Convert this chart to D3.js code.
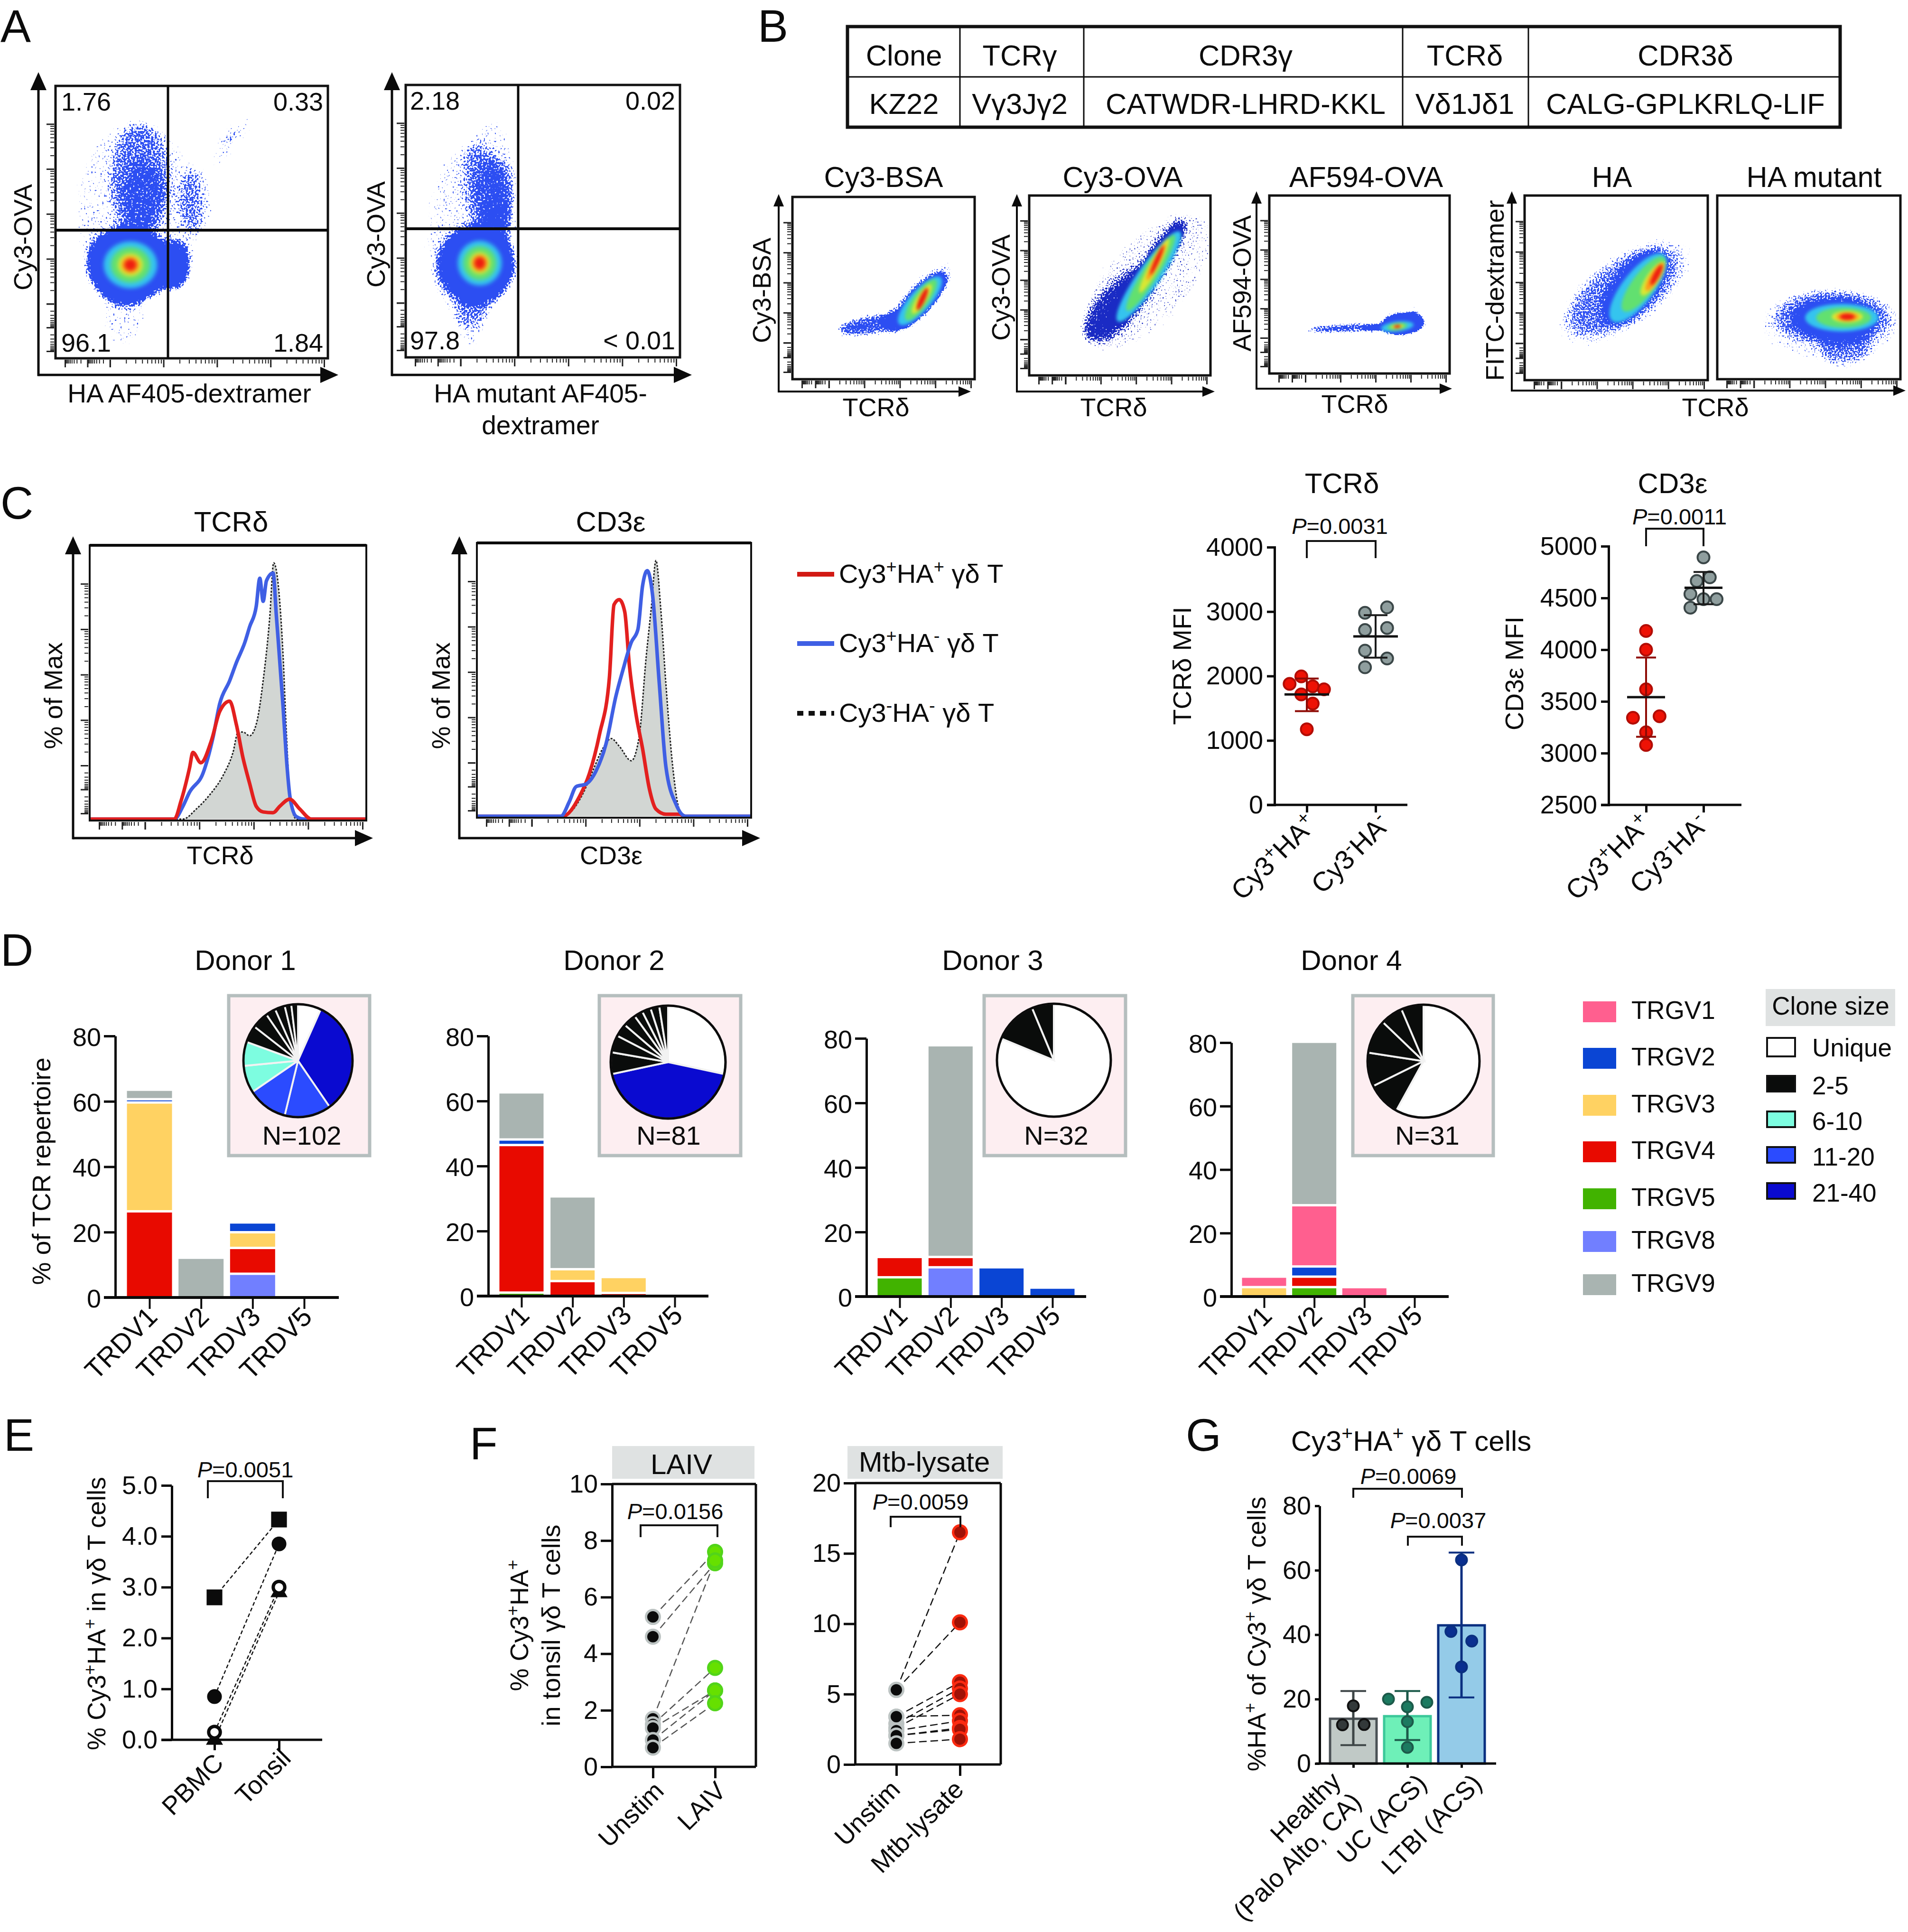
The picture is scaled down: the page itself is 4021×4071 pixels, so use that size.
<!DOCTYPE html>
<html><head><meta charset="utf-8">
<script src="https://cdn.jsdelivr.net/npm/d3@7/dist/d3.min.js"></script>
<style>html,body{margin:0;padding:0;background:#fff}svg{display:block}text{font-family:"Liberation Sans",Arial,sans-serif;fill:#0b0b0b}</style>
</head><body>
<script>
// ---------- DATA ----------
// Panel A quadrant frequencies
const quadA1 = ["1.76", "0.33", "96.1", "1.84"];
const quadA2 = ["2.18", "0.02", "97.8", "< 0.01"];
// Flow-cytometry density outlines, in % of each plot's range: [level, cx, cy, ux, uy, vx, vy]
const cloudLevels = { sparse: 0.34, mid: 0.36, dense: 0.3, solid: 1 };
const coreColours = ["#35c4ee", "#62e070", "#d9e733", "#ff9a1a", "#ee1d10"];
const cloudA1 = [["sparse",30,55,24,0,0,33],["sparse",25,14,9,0,0,11],["mid",31,65,11,0,0,22],["dense",32,60,7,0,0,12],["sparse",52,58,7,0,0,13],["sparse",61,76,5,4,0,8],["sparse",68,84,6,3,0,5],["solid",26.5,34,15,0,0,14],["solid",43,34,6.5,0,0,9]];
const coreA1 = [[0,27.5,34.3,9.8,0,0,8.6],[1,27.5,34.3,7.2,0,0,6.5],[2,27.5,34.3,4.6,0,0,4.2],[3,27.5,34.3,3.2,0,0,3],[4,27.5,34.3,2.2,0,0,2.1]];
const cloudA2 = [["sparse",23,45,17,0,0,34],["sparse",24,14,6,0,0,14],["mid",31,66,10,0,0,22],["dense",33,60,7,0,0,14],["solid",26,34,14,0,0,14],["dense",34,50,6,0,0,7]];
const coreA2 = [[0,27,34.6,8,0,0,8.2],[1,27,34.6,6,0,0,6.2],[2,27,34.6,3.8,0,0,4],[3,27,34.6,2.8,0,0,3],[4,27,34.6,2,0,0,2.2]];
const cloudBSA = [["sparse",46,30,23,3,0,7],["sparse",70,46,18,19,8,-4],["mid",42,30,16,3,0,4],["dense",45,30,20,3,0,5],["solid",60,33,9,4,-2,5],["solid",70.5,43,13,15,6,-3.5]];
const coreBSA = [[0,70,43,11,13,5,-3],[1,70.5,43.5,8,11,3.6,-2.2],[2,71,44,5,8,2.3,-1.3],[4,71.3,44,2.8,6,1.4,-.7]];
const cloudOVA = [["sparse",65,52,30,38,22,-12],["sparse",46,36,12,18,12,0],["mid",48,40,13,20,11,-2],["sparse",55,42,14,22,8,-3],["solid",67,58,18,28,5,-2.5]];
const coreOVA = [[0,66,55,17,25,5.5,-3],[1,67,57,13,21,3.8,-2],[2,69,61,8,15,2.4,-1.2],[3,70,63,5,10,1.6,-.8],[4,70.5,64,3.5,8,1.1,-.5]];
const cloudAF = [["sparse",46,25.6,27,1,0,3],["mid",42,25.6,20,1,0,2],["dense",42,25.6,22,1,0,2.4],["solid",62,26,10,1,0,1.8],["solid",74,28,12,2.5,-3,6],["mid",80,34,1.8,6,2.5,0],["sparse",64,77.7,.8,0,0,.5]];
const coreAF = [[0,71,26.4,9,1,0,2.8],[1,71,26.4,5.5,.6,0,2],[2,71,26.4,3.5,.3,0,1.3],[4,71,26.4,2,.2,0,.8]];
const cloudHA = [["sparse",55,48,34,28,17,-13],["mid",54,48,27,22,14,-10],["solid",60,50,14,18,7.5,-6]];
const coreHA = [[0,62,50,14,18,7,-5],[1,65,52,11,14.5,5,-3.5],[2,70,55,6,9,3,-1.8],[3,71,56,4.5,7.5,2.2,-1.2],[4,72,57,3,5.5,1.4,-.8]];
const cloudMut = [["sparse",62,30,40,0,0,21],["sparse",70,18,14,0,0,14],["mid",63,33,32,0,0,15],["solid",64,33,22,0,0,9.5]];
const coreMut = [[0,68,33.5,20,0,0,7.5],[1,69,33.5,15,0,0,5.5],[2,71,34,8.5,0,0,3.2],[3,71,34,6,0,0,2.4],[4,71,34,4,0,0,1.7]];
// Panel B table
const tableHeader = ["Clone", "TCRγ", "CDR3γ", "TCRδ", "CDR3δ"];
const tableRow = ["KZ22", "Vγ3Jγ2", "CATWDR-LHRD-KKL", "Vδ1Jδ1", "CALG-GPLKRLQ-LIF"];
// Panel C histograms: [% of axis range, % of max]
const histTcrGrey = [[0,0],[33.7,0],[38.6,4],[43.4,9.5],[48.2,17],[51.8,26],[53.7,34],[55.4,34],[57.8,32.5],[60.2,37],[62.7,54],[65.1,79],[66.5,100],[68.2,91],[69.9,64],[71.1,34],[72.5,8],[74.7,0],[100,0]];
const histTcrBlue = [[0,0],[30.6,0],[33.7,5],[36.1,10.5],[41,18],[44.6,32],[47,45],[50.6,54],[53,61],[56.1,69],[57.8,75],[60.2,83],[61.5,94],[62.7,85],[63.9,93],[66.3,96],[67.5,79],[69.9,44],[71.1,24],[72.5,8],[74.7,1],[77.8,0],[100,0]];
const histTcrRed = [[0,0],[30.6,0],[33,7],[36.1,20],[37.3,26],[40.2,22],[44.1,31],[47,42],[50.6,46],[53,37],[55.4,24],[57.8,14],[60.2,5],[62.7,2.8],[66.3,2.5],[68.7,5],[72.3,7.8],[75.9,4],[80.2,0],[100,0]];
const histCdGrey = [[0,0],[31.3,0],[38.6,8.7],[42.2,17.6],[45.9,26.5],[49,30.4],[51.9,27.4],[56.3,21.7],[59.2,31.4],[61.7,62],[63.6,81.7],[65.3,100],[67,81.7],[68.9,52],[71.4,19.5],[73.8,2.8],[76.2,0],[100,0]];
const histCdBlue = [[0,0],[30.6,0],[33.7,5.7],[36.2,11.6],[39.8,12.6],[43.4,17.6],[47.1,28.4],[50.7,47],[53.2,57],[56.3,68],[58.7,73],[60.4,90],[62.1,96],[64,87],[66.5,52],[68.9,19.5],[72.6,4.7],[76.2,0],[100,0]];
const histCdRed = [[0,0],[31.3,0],[37.4,7.7],[41,16.6],[44.7,32],[48.3,54],[50,82.7],[51.9,84.7],[53.9,80],[55.6,59],[58,40],[60.4,26.5],[62.9,10.7],[65.3,2.8],[68.9,.8],[73.8,.8],[76.2,0],[100,0]];
const histLegend = ["Cy3^+HA^+ γδ T", "Cy3^+HA^- γδ T", "Cy3^-HA^- γδ T"];
// Panel C MFI
const mfiCats = ["Cy3^+HA^+", "Cy3^-HA^-"];
const tcrRed = [1878,1995,1840,1793,1714,1573,1174];
const tcrRedJit = [-.25,-.08,.086,.25,-.08,.086,0];
const tcrGrey = [2981,3066,2714,2746,2394,2272,2136];
const tcrGreyJit = [-.154,.167,-.154,.167,-.154,.167,-.154];
const tcrSummary = [[1714,1962,1455],[2615,2944,2286]];
const cdRed = [4181,4000,3617,3342,3357,3202,3079];
const cdRedJit = [0,0,0,-.228,.235,0,0];
const cdGrey = [4892,4699,4664,4538,4488,4488,4406];
const cdGreyJit = [0,.11,-.118,-.228,0,.228,-.228];
const cdSummary = [[3541,3924,3158],[4599,4751,4439]];
// Panel D repertoire
const trdv = ["TRDV1", "TRDV2", "TRDV3", "TRDV5"];
const trgv = ["TRGV1", "TRGV2", "TRGV3", "TRGV4", "TRGV5", "TRGV8", "TRGV9"];
const stackOrder = ["TRGV5", "TRGV8", "TRGV4", "TRGV3", "TRGV2", "TRGV1", "TRGV9"];
const donor1 = [[0,0,26,33.3,1,0,2.9],[0,0,0,0,0,0,11.8],[0,6.9,7.9,4.8,3,0,0],[0,0,0,0,0,0,0]];
const donor2 = [[.7,0,45.4,0,1.7,0,14.5],[0,0,4.25,3.65,0,0,22.4],[0,0,.6,4.9,0,0,0],[0,0,0,0,0,0,0]];
const donor3 = [[5.6,0,6.3,0,0,0,0],[0,8.7,3.2,0,0,0,65.6],[0,0,0,0,8.7,0,0],[0,0,0,0,2.4,0,0]];
const donor4 = [[0,0,0,2.6,0,3.3,0],[2.6,0,3.3,0,3.2,19.3,51.5],[0,0,0,0,0,2.6,0],[0,0,0,0,0,0,0]];
const cloneSizes = ["Unique", "2-5", "6-10", "11-20", "21-40"];
const pie1 = [7,34,14,12,8,7,5,5,3,3,2,2];
const pie1Class = ["Unique","21-40","11-20","11-20","6-10","6-10","2-5","2-5","2-5","2-5","2-5","2-5"];
const pie2 = [23,35,5,4,3,3,2,2,2,2];
const pie2Class = ["Unique","21-40","2-5","2-5","2-5","2-5","2-5","2-5","2-5","2-5"];
const pie3 = [26,4,2];
const pie3Class = ["Unique","2-5","2-5"];
const pie4 = [18,3,3,3,2,2];
const pie4Class = ["Unique","2-5","2-5","2-5","2-5","2-5"];
// Panel E
const eCats = ["PBMC", "Tonsil"];
const ePbmc = [2.8, .85, 0, .15];
const eTonsil = [4.33, 3.85, 2.9, 3.0];
const eShapes = ["square", "circle", "triangle", "ring"];
// Panel F
const laivCats = ["Unstim", "LAIV"];
const laivUnstim = [5.3,4.6,1.7,1.5,1.37,.95,.68];
const laivStim = [7.6,7.2,7.3,3.5,2.7,2.7,2.25];
const mtbCats = ["Unstim", "Mtb-lysate"];
const mtbUnstim = [5.3,5.3,3.4,2.9,2.6,3.4,2.4,2.05,2.05,1.5];
const mtbStim = [16.5,10.1,5.85,5.4,5,3.5,3.1,2.6,2.5,1.8];
// Panel G
const gCats = ["Healthy", "UC (ACS)", "LTBI (ACS)"];
const gBars = [13.9, 14.7, 42.9];
const gErrHi = [22.5, 22.5, 65.5];
const gErrLo = [5.7, 7.3, 20.5];
const gPts1 = [17.9,12,12.1];
const gJit1 = [0,-.2,.2];
const gPts2 = [20,19,17.6,13,5];
const gJit2 = [-.35,.36,0,0,0];
const gPts3 = [63.2,41,38,30];
const gJit3 = [0,-.195,.19,0];

// ---------- STYLES ----------
const geneColour = d3.scaleOrdinal(trgv, ["#ff5f8f","#0a45d4","#ffd262","#e80a00","#41b300","#717fff","#a9b4b1"]);
const sizeColour = d3.scaleOrdinal(cloneSizes, ["#ffffff","#0a0c0b","#7dfde0","#2b4bff","#0a0ad0"]);

const W = 4021, H = 4071, FS = 54, PS = 47;
const svg = d3.select("body").append("svg").attr("width", W).attr("height", H).attr("viewBox", `0 0 ${W} ${H}`);
const defs = svg.append("defs");

// rich text: ^+ superscript, *x* italic
function label(sel, str, size) {
  const re = /(\^[+-]|\*[^*]+\*)/;
  str.split(re).filter(s => s.length).forEach(s => {
    if (s[0] === "^") sel.append("tspan").attr("baseline-shift", "super").attr("font-size", size * .68).text(s[1]);
    else if (s[0] === "*") sel.append("tspan").attr("font-style", "italic").text(s.slice(1, -1));
    else sel.append("tspan").text(s);
  });
}
function T(x, y, str, o = {}) {
  const size = o.size || FS;
  const t = svg.append("text").attr("transform", `translate(${x},${y})` + (o.rot ? ` rotate(${o.rot})` : ""))
    .attr("font-size", size).attr("text-anchor", o.a || "middle");
  label(t, str, size);
  return t;
}
const V = (cx, cy, str, size = FS) => T(cx + size * .36, cy, str, { size, rot: -90 });
const L = (a, b, c, d, sw = 5, col = "#0b0b0b", dash = null, par = svg) => par.append("line").attr("x1", a).attr("y1", b).attr("x2", c).attr("y2", d).attr("stroke", col).attr("stroke-width", sw).attr("stroke-dasharray", dash);

function arrows(ax, top, bottom, right, hw, hl, sw = 5) {
  L(ax, top + hl - 4, ax, bottom + sw / 2, sw);
  L(ax, bottom, right - hl + 4, bottom, sw);
  svg.append("polygon").attr("points", [[ax, top], [ax - hw, top + hl], [ax + hw, top + hl]].join(" ")).attr("fill", "#0b0b0b");
  svg.append("polygon").attr("points", [[right, bottom], [right - hl, bottom - hw], [right - hl, bottom + hw]].join(" ")).attr("fill", "#0b0b0b");
}
function logTicks(box, sides) {
  const [x0, x1, y0, y1] = box;
  const setTicks = (g, major) => {
    g.select(".domain").remove(); g.selectAll("text").remove();
    g.selectAll(".tick line").attr("stroke", "#222").attr("stroke-width", 2).each(function (d) {
      const big = Math.abs(Math.log10(d) - Math.round(Math.log10(d))) < 1e-6;
      const s = d3.select(this);
      if (s.attr("y2") !== null && +s.attr("y2") !== 0) s.attr("y2", big ? major : major * .5).attr("stroke-width", big ? 3 : 2);
      else s.attr("x2", big ? -major : -major * .5).attr("stroke-width", big ? 3 : 2);
    });
  };
  const xs = d3.scaleLog([1, 1e4], [x0 + (x1 - x0) * .2, x1 - 8]);
  const xn = d3.scaleLog([1, 100], [x0 + (x1 - x0) * .2, x0 + 20]);
  const ys = d3.scaleLog([1, 1e4], [y1 - (y1 - y0) * .2, y0 + (y1 - y0) * .14]);
  const yn = d3.scaleLog([1, 100], [y1 - (y1 - y0) * .2, y1 - 15]);
  if (sides.includes("x")) for (const s of [xs, xn])
    svg.append("g").attr("transform", `translate(0,${y1 + 3})`).call(d3.axisBottom(s).tickValues(s.ticks()).tickFormat("")).call(setTicks, 16);
  if (sides.includes("y")) for (const s of [ys, yn])
    svg.append("g").attr("transform", `translate(${x0 - 3},0)`).call(d3.axisLeft(s).tickValues(s.ticks()).tickFormat("")).call(setTicks, 16);
}

let fid = 0;
function flow(box, cloud, core, o = {}) {
  const [x0, x1, y0, y1] = box;
  const xs = d3.scaleLinear([0, 100], [x0, x1]), ys = d3.scaleLinear([0, 100], [y1, y0]);
  const id = ++fid;
  const blur = o.blur || 11, core_b = o.coreBlur || 4, flood = o.flood || "#2c4ef2";
  const fx = x0 - 5, fy = y0 - 5, fw = x1 - x0 + 10, fh = y1 - y0 + 10;
  const f = defs.append("filter").attr("id", "sp" + id).attr("filterUnits", "userSpaceOnUse")
    .attr("x", fx).attr("y", fy).attr("width", fw).attr("height", fh).attr("color-interpolation-filters", "sRGB");
  f.append("feGaussianBlur").attr("in", "SourceGraphic").attr("stdDeviation", blur).attr("result", "b");
  f.append("feTurbulence").attr("type", "fractalNoise").attr("baseFrequency", o.grain || .3).attr("numOctaves", 1).attr("seed", 3 + id).attr("result", "n0");
  f.append("feColorMatrix").attr("in", "n0").attr("values", "0 0 0 0 0  0 0 0 0 0  0 0 0 0 0  0 0 0 1 0").attr("result", "n");
  f.append("feComposite").attr("in", "b").attr("in2", "n").attr("operator", "arithmetic").attr("k1", 0).attr("k2", 1).attr("k3", 1).attr("k4", -1).attr("result", "s");
  const ct = f.append("feComponentTransfer").attr("in", "s").attr("result", "t");
  ct.append("feFuncA").attr("type", "linear").attr("slope", 14).attr("intercept", 0);
  f.append("feFlood").attr("flood-color", flood).attr("result", "c");
  f.append("feComposite").attr("in", "c").attr("in2", "t").attr("operator", "in");
  const fb = defs.append("filter").attr("id", "cb" + id).attr("filterUnits", "userSpaceOnUse").attr("x", fx).attr("y", fy).attr("width", fw).attr("height", fh).attr("color-interpolation-filters", "sRGB");
  fb.append("feGaussianBlur").attr("stdDeviation", core_b);
  const clip = defs.append("clipPath").attr("id", "cl" + id);
  clip.append("rect").attr("x", x0).attr("y", y0).attr("width", (o.clipX ? xs(o.clipX) : x1) - x0).attr("height", y1 - y0);
  const ell = r => {
    const [cx, cy, ux, uy, vx, vy] = r;
    const pts = d3.range(0, 60).map(i => {
      const t = i / 60 * 2 * Math.PI;
      return [xs(cx + ux * Math.cos(t) + vx * Math.sin(t)), ys(cy + uy * Math.cos(t) + vy * Math.sin(t))];
    });
    return d3.line().curve(d3.curveLinearClosed)(pts);
  };
  const outer = svg.append("g").attr("clip-path", `url(#cl${id})`);
  outer.append("g").attr("filter", `url(#sp${id})`).selectAll("path").data(cloud).join("path")
    .attr("d", d => ell(d.slice(1))).attr("fill", "#000").attr("fill-opacity", d => cloudLevels[d[0]]);
  outer.append("g").attr("filter", `url(#cb${id})`).selectAll("path").data(core).join("path")
    .attr("d", d => ell(d.slice(1))).attr("fill", d => coreColours[d[0]]);
}
function frame(box, sw = 5) {
  const [x0, x1, y0, y1] = box;
  svg.append("rect").attr("x", x0).attr("y", y0).attr("width", x1 - x0).attr("height", y1 - y0).attr("fill", "none").attr("stroke", "#111").attr("stroke-width", sw);
}

// ---------- PANEL LETTERS ----------
[["A", 1, 88], ["B", 1597, 88], ["C", 1, 1093], ["D", 1, 2035], ["E", 8, 3057], ["F", 990, 3075], ["G", 2499, 3057]]
  .forEach(d => T(d[1], d[2], d[0], { a: "start", size: 96 }));

// ---------- PANEL A ----------
function panelA(box, gateX, gateY, quad, cloud, core, ax, clipX, ql, qr, qt, qb) {
  logTicks(box, "xy");
  flow(box, cloud, core, { clipX, blur: 11, grain: .26 });
  frame(box, 5);
  L(gateX, box[2], gateX, box[3], 5); L(box[0], gateY, box[1], gateY, 6);
  arrows(ax, 152, 790, ax + 632, 17, 38);
  T(ql, qt, quad[0], { a: "start" }); T(qr, qt, quad[1], { a: "end" });
  T(ql, qb, quad[2], { a: "start" }); T(qr, qb, quad[3], { a: "end" });
}
panelA([117, 691, 181, 755], 354, 485, quadA1, cloudA1, coreA1, 81, null, 129, 681, 233, 741);
panelA([855, 1433, 179, 753], 1092, 482, quadA2, cloudA2, coreA2, 826, 41, 864, 1423, 231, 736);
V(48, 500, "Cy3-OVA"); V(792, 494, "Cy3-OVA");
T(399, 848, "HA AF405-dextramer", { size: 55 }); T(1139, 848, "HA mutant AF405-", { size: 55 }); T(1139, 915, "dextramer", { size: 55 });

// ---------- PANEL B ----------
const tableX = [1786, 2023, 2284, 2956, 3221, 3878];
const tableY = [56, 162, 268];
svg.append("rect").attr("x", tableX[0]).attr("y", tableY[0]).attr("width", tableX[5] - tableX[0]).attr("height", tableY[2] - tableY[0]).attr("fill", "none").attr("stroke", "#111").attr("stroke-width", 7);
L(tableX[0], tableY[1], tableX[5], tableY[1], 3);
tableX.slice(1, 5).forEach(x => L(x, tableY[0], x, tableY[2], 3));
const tableCx = [1905, 2149, 2625, 3087, 3552];
tableHeader.forEach((s, i) => T(tableCx[i], 138, s, { size: 61.5 }));
tableRow.forEach((s, i) => T(tableCx[i], 240, s, { size: 61.5 }));

const bPlots = [
  { box: [1670, 2054, 415, 799], c: cloudBSA, k: coreBSA, t: "Cy3-BSA", tx: 1862, yl: "Cy3-BSA", ylx: 1605, yly: 612, blur: 7 },
  { box: [2169, 2551, 412, 791], c: cloudOVA, k: coreOVA, t: "Cy3-OVA", tx: 2366, yl: "Cy3-OVA", ylx: 2109, yly: 606, flood: "#1a2bc4", blur: 9 },
  { box: [2675, 3055, 412, 787], c: cloudAF, k: coreAF, t: "AF594-OVA", tx: 2879, yl: "AF594-OVA", ylx: 2617, yly: 597, blur: 5 },
  { box: [3213, 3599, 412, 801], c: cloudHA, k: coreHA, t: "HA", tx: 3397, yl: "FITC-dextramer", ylx: 3150, yly: 612, blur: 11 },
  { box: [3619, 4005, 412, 799], c: cloudMut, k: coreMut, t: "HA mutant", tx: 3823, blur: 9 }
];
bPlots.forEach(p => {
  logTicks(p.box, p.yl ? "xy" : "x");
  flow(p.box, p.c, p.k, { flood: p.flood, blur: p.blur, coreBlur: 3, grain: .3 });
  frame(p.box, 5);
  T(p.tx, 394, p.t, { size: 61 });
  if (p.yl) V(p.ylx, p.yly, p.yl);
});
arrows(1641, 409, 825, 2046, 11, 26, 4);
arrows(2143, 409, 825, 2560, 11, 26, 4);
arrows(2648, 403, 819, 3060, 11, 26, 4);
arrows(3186, 403, 823, 4016, 11, 26, 4);
T(1846, 877, "TCRδ"); T(2347, 877, "TCRδ"); T(2855, 870, "TCRδ"); T(3615, 877, "TCRδ");

// ---------- PANEL C HISTOGRAMS ----------
function hist(box, grey, blue, red, ax, right, redOnTop) {
  const [x0, x1, y0, y1] = box;
  const base = y1 - 3;
  const xs = d3.scaleLinear([0, 100], [x0, x1]);
  const ys = d3.scaleLinear([0, 100], [base, y0 + 37]);
  logTicks([x0, x1, y0, y1], "xy");
  svg.append("path").datum(grey).attr("fill", "#d2d6d3")
    .attr("d", d3.area().curve(d3.curveMonotoneX).x(d => xs(d[0])).y0(base).y1(d => ys(d[1])));
  const line = d3.line().curve(d3.curveMonotoneX).x(d => xs(d[0])).y(d => ys(d[1]));
  svg.append("path").datum(grey).attr("fill", "none").attr("stroke", "#222").attr("stroke-width", 3).attr("stroke-dasharray", "4 3").attr("d", line);
  const drawOrder = redOnTop ? [[blue, "#3f5fe4"], [red, "#e3201f"]] : [[red, "#e3201f"], [blue, "#3f5fe4"]];
  drawOrder.forEach(([d, c]) => svg.append("path").datum(d).attr("fill", "none").attr("stroke", c).attr("stroke-width", 7.5).attr("stroke-linejoin", "round").attr("d", line));
  svg.append("rect").attr("x", x0).attr("y", y0).attr("width", x1 - x0).attr("height", y1 - y0).attr("fill", "none").attr("stroke", "#111").attr("stroke-width", 4);
  L(x0, y0, x1, y0, 6);
  arrows(ax, 1130, 1766, right, 17, 38);
}
hist([189, 772, 1149, 1729], histTcrGrey, histTcrBlue, histTcrRed, 154, 786, true);
hist([1005, 1583, 1144, 1723], histCdGrey, histCdBlue, histCdRed, 968, 1602, false);
T(487, 1120, "TCRδ", { size: 60 }); T(1287, 1120, "CD3ε", { size: 60 });
T(464, 1821, "TCRδ"); T(1288, 1821, "CD3ε");
V(112, 1466, "% of Max"); V(929, 1466, "% of Max");
const histLegY = [1210, 1356, 1503], histLegCol = ["#d21a14", "#3f5fe4", "#111"], histLegDash = [null, null, "13 11"];
histLegend.forEach((s, i) => {
  L(1680, histLegY[i], 1758, histLegY[i], 10, histLegCol[i], histLegDash[i]);
  T(1768, histLegY[i] + 18, s, { a: "start", size: 56 });
});

// ---------- PANEL C MFI ----------
function mfi(o) {
  const y = d3.scaleLinear(o.dom, o.yr);
  const x = d3.scalePoint(mfiCats, o.xr);
  const step = o.xr[1] - o.xr[0];
  const g = svg.append("g");
  g.append("g").attr("transform", `translate(${o.ax},0)`).call(d3.axisLeft(y).tickValues(o.ticks).tickFormat(d3.format("d")).tickSizeOuter(0).tickSize(16).tickPadding(8))
    .call(a => { a.selectAll("path,line").attr("stroke", "#0b0b0b").attr("stroke-width", 5); a.selectAll("text").attr("font-size", FS); });
  g.append("g").attr("transform", `translate(0,${o.yr[0]})`).call(d3.axisBottom(x).tickSizeOuter(0).tickSize(16).tickFormat(""))
    .call(a => { a.select(".domain").remove(); a.selectAll("line").attr("stroke", "#0b0b0b").attr("stroke-width", 5); });
  L(o.ax - 16, o.yr[0], o.xend, o.yr[0], 5);
  const dots = (vals, jit, cat, fill, stroke) => g.append("g").selectAll("circle").data(vals).join("circle")
    .attr("cx", (d, i) => x(cat) + jit[i] * step).attr("cy", d => y(d)).attr("r", 12.5)
    .attr("fill", fill).attr("stroke", stroke).attr("stroke-width", 4);
  dots(o.red, o.redJ, mfiCats[0], "#ee1205", "#b20d05");
  dots(o.grey, o.greyJ, mfiCats[1], "#8f9e9e", "#3b4748");
  o.sum.forEach((s, i) => {
    const cx = x(mfiCats[i]), col = i ? "#1b1b1b" : "#8e0b05";
    L(cx, y(s[1]), cx, y(s[2]), 4, col);
    L(cx - o.cap, y(s[1]), cx + o.cap, y(s[1]), 4, col);
    L(cx - o.cap, y(s[2]), cx + o.cap, y(s[2]), 4, col);
    L(cx - o.mean, y(s[0]), cx + o.mean, y(s[0]), 5, "#111");
  });
  svg.append("path").attr("fill", "none").attr("stroke", "#111").attr("stroke-width", 4)
    .attr("d", `M${o.xr[0]},${o.bb}V${o.bt}H${o.xr[1]}V${o.bb}`);
  T((o.xr[0] + o.xr[1]) / 2 + o.pdx, o.bt - o.pgap, o.p, { size: PS });
  mfiCats.forEach((c, i) => T(x(c) + 14 + o.ldx[i], o.yr[0] + 44, c, { rot: -45, a: "end", size: 57 }));
}
mfi({ dom: [0, 4000], yr: [1696, 1153], xr: [2754, 2899], ax: 2686, xend: 2966, ticks: [0, 1000, 2000, 3000, 4000],
  red: tcrRed, redJ: tcrRedJit, grey: tcrGrey, greyJ: tcrGreyJit, sum: tcrSummary, cap: 25, mean: 47, bt: 1140, bb: 1176, p: "*P*=0.0031", pdx: -3, pgap: 15, ldx: [10, 20] });
mfi({ dom: [2500, 5000], yr: [1696, 1151], xr: [3469, 3590], ax: 3390, xend: 3670, ticks: [2500, 3000, 3500, 4000, 4500, 5000],
  red: cdRed, redJ: cdRedJit, grey: cdGrey, greyJ: cdGreyJit, sum: cdSummary, cap: 21, mean: 40, bt: 1114, bb: 1151, p: "*P*=0.0011", pdx: 10, pgap: 9, ldx: [0, 0] });
T(2828, 1039, "TCRδ", { size: 60 }); T(3525, 1039, "CD3ε", { size: 60 });
V(2491, 1403, "TCRδ MFI"); V(3191, 1419, "CD3ε MFI");

// ---------- PANEL D ----------
const dPanels = [
  { rows: donor1, t: "Donor 1", tx: 517, ax: 243, y0: 2734, y80: 2183, xr: [315, 641], bw: 95, xend: 714, pie: pie1, cls: pie1Class, n: "N=102", box: [482, 779], pc: [628, 2235], nx: 636, prx: 115 },
  { rows: donor2, t: "Donor 2", tx: 1294, ax: 1029, y0: 2731, y80: 2183, xr: [1099, 1422], bw: 93, xend: 1493, pie: pie2, cls: pie2Class, n: "N=81", box: [1263, 1561], pc: [1408, 2238], nx: 1409, prx: 121 },
  { rows: donor3, t: "Donor 3", tx: 2092, ax: 1826, y0: 2732, y80: 2188, xr: [1896, 2218], bw: 93, xend: 2289, pie: pie3, cls: pie3Class, n: "N=32", box: [2074, 2372], pc: [2221, 2234], nx: 2226, prx: 120 },
  { rows: donor4, t: "Donor 4", tx: 2848, ax: 2595, y0: 2732, y80: 2197, xr: [2664, 2981], bw: 93, xend: 3053, pie: pie4, cls: pie4Class, n: "N=31", box: [2851, 3147], pc: [3000, 2236], nx: 3008, prx: 118 }
];
dPanels.forEach(p => {
  const y = d3.scaleLinear([0, 80], [p.y0, p.y80]);
  const x = d3.scalePoint(trdv, p.xr);
  const rows = p.rows.map(r => Object.fromEntries(stackOrder.map((k, i) => [k, r[i]])));
  const stacked = d3.stack().keys(stackOrder)(rows);
  const gap = 5;
  stacked.forEach(layer => {
    svg.append("g").attr("fill", geneColour(layer.key)).selectAll("rect").data(layer.filter(d => d[1] > d[0])).join("rect")
      .attr("x", d => x(trdv[layer.indexOf(d)]) - p.bw / 2).attr("width", p.bw)
      .attr("y", d => y(d[1]))
      .attr("height", d => y(d[0]) - y(d[1]) - (d[0] > 0 ? gap : 0));
  });
  svg.append("g").attr("transform", `translate(${p.ax},0)`).call(d3.axisLeft(y).tickValues([0, 20, 40, 60, 80]).tickSize(24).tickSizeOuter(0).tickPadding(6))
    .call(a => { a.selectAll("path,line").attr("stroke", "#0b0b0b").attr("stroke-width", 5); a.selectAll("text").attr("font-size", FS).attr("transform", "translate(0,3)"); });
  svg.append("g").attr("transform", `translate(0,${p.y0})`).call(d3.axisBottom(x).tickSize(24).tickFormat(""))
    .call(a => { a.select(".domain").remove(); a.selectAll("line").attr("stroke", "#0b0b0b").attr("stroke-width", 4); });
  L(p.ax - 24, p.y0, p.xend, p.y0, 6);
  trdv.forEach(c => T(x(c) + 20, p.y0 + 44, c, { rot: -45, a: "end", size: 57 }));
  T(p.tx, 2044, p.t, { size: 60 });
  // inset
  svg.append("rect").attr("x", p.box[0]).attr("y", 2098).attr("width", p.box[1] - p.box[0]).attr("height", 337).attr("fill", "#fdeef1").attr("stroke", "#b5bebe").attr("stroke-width", 7);
  const R = 119;
  const arcs = d3.pie().sort(null).value(d => d)(p.pie);
  const pg = svg.append("g").attr("transform", `translate(${p.pc[0]},${p.pc[1]}) scale(${p.prx / R},1)`);
  const arc = d3.arc().innerRadius(0).outerRadius(R);
  pg.selectAll("path").data(arcs).join("path").attr("d", arc).attr("fill", (d, i) => sizeColour(p.cls[i])).attr("stroke", "#f2f2f2").attr("stroke-width", 4);
  pg.append("circle").attr("r", R).attr("fill", "none").attr("stroke", "#0b0b0b").attr("stroke-width", 5);
  T(p.nx, 2412, p.n, { size: 56 });
});
V(87, 2468, "% of TCR repertoire");
// legends
const geneLegY = [2110, 2208, 2307, 2405, 2504, 2594, 2685];
trgv.forEach((g, i) => {
  svg.append("rect").attr("x", 3336).attr("y", geneLegY[i]).attr("width", 70).attr("height", 44).attr("fill", geneColour(g));
  T(3438, geneLegY[i] + 37, g, { a: "start", size: 53 });
});
svg.append("rect").attr("x", 3721).attr("y", 2084).attr("width", 273).attr("height", 78).attr("fill", "#dfe2e2");
T(3858, 2138, "Clone size", { size: 53 });
const sizeLegY = [2187, 2267, 2342, 2417, 2493], sizeLegH = [39, 33, 33, 33, 33], sizeLegT = [2226, 2306, 2381, 2456, 2532];
cloneSizes.forEach((s, i) => {
  svg.append("rect").attr("x", 3724).attr("y", sizeLegY[i]).attr("width", 59).attr("height", sizeLegH[i]).attr("fill", sizeColour(s)).attr("stroke", "#111").attr("stroke-width", 4);
  T(3819, sizeLegT[i], s, { a: "start", size: 53 });
});

// ---------- PANEL E ----------
{
  const y = d3.scaleLinear([0, 5], [3666, 3130]);
  const x = d3.scalePoint(eCats, [452, 588]);
  svg.append("g").attr("transform", "translate(362,0)").call(d3.axisLeft(y).tickValues([0, 1, 2, 3, 4, 5]).tickFormat(d3.format(".1f")).tickSize(22).tickSizeOuter(0).tickPadding(8))
    .call(a => { a.selectAll("path,line").attr("stroke", "#0b0b0b").attr("stroke-width", 5); a.selectAll("text").attr("font-size", FS); });
  svg.append("g").attr("transform", "translate(0,3666)").call(d3.axisBottom(x).tickSize(22).tickFormat(""))
    .call(a => { a.select(".domain").remove(); a.selectAll("line").attr("stroke", "#0b0b0b").attr("stroke-width", 5); });
  L(340, 3666, 679, 3666, 5);
  ePbmc.forEach((v, i) => L(x(eCats[0]), y(v), x(eCats[1]), y(eTonsil[i]), 2.5, "#111", "8 5"));
  const sym = { square: [d3.symbolSquare, 1100], circle: [d3.symbolCircle, 760], triangle: [d3.symbolTriangle, 560], ring: [d3.symbolCircle, 470] };
  [[eCats[0], ePbmc], [eCats[1], eTonsil]].forEach(([c, vals]) => {
    svg.append("g").selectAll("path").data(vals).join("path")
      .attr("transform", (d, i) => `translate(${x(c)},${y(d)})`)
      .attr("d", (d, i) => d3.symbol(sym[eShapes[i]][0], sym[eShapes[i]][1])())
      .attr("fill", (d, i) => eShapes[i] === "ring" ? "#fff" : "#0b0b0b")
      .attr("stroke", (d, i) => eShapes[i] === "ring" ? "#0b0b0b" : "none").attr("stroke-width", 7);
  });
  V(203, 3400, "% Cy3^+HA^+ in γδ T cells");
  svg.append("path").attr("fill", "none").attr("stroke", "#111").attr("stroke-width", 4).attr("d", "M438,3157V3121H596V3157");
  T(517, 3113, "*P*=0.0051", { size: PS });
  [[22, 3718], [28, 3708]].forEach((p, i) => T(x(eCats[i]) + p[0], p[1], eCats[i], { rot: -45, a: "end" }));
}

// ---------- PANEL F ----------
function panelF(o) {
  const y = d3.scaleLinear([0, o.max], o.yr);
  const x = d3.scalePoint(o.cats, o.xr);
  svg.append("rect").attr("x", o.head[0]).attr("y", 3047).attr("width", o.head[1] - o.head[0]).attr("height", 69).attr("fill", "#dfe2e2");
  T(o.hx, o.hy, o.title, { size: 60 });
  svg.append("g").attr("transform", `translate(${o.box[0]},0)`).call(d3.axisLeft(y).tickValues(o.ticks).tickSize(24).tickSizeOuter(0).tickPadding(6))
    .call(a => { a.selectAll("path,line").attr("stroke", "#0b0b0b").attr("stroke-width", 5); a.selectAll("text").attr("font-size", FS); });
  svg.append("g").attr("transform", `translate(0,${o.yr[0]})`).call(d3.axisBottom(x).tickSize(24).tickFormat(""))
    .call(a => { a.select(".domain").remove(); a.selectAll("line").attr("stroke", "#0b0b0b").attr("stroke-width", 5); });
  L(o.box[0], o.yr[0], o.box[1], o.yr[0], 5); L(o.box[0], o.yr[1], o.box[1], o.yr[1], 5); L(o.box[1], o.yr[1], o.box[1], o.yr[0], 5);
  o.a.forEach((v, i) => L(x(o.cats[0]), y(v), x(o.cats[1]), y(o.b[i]), 2.5, o.lineCol, "16 8"));
  const dots = (vals, c, fill, stroke) => svg.append("g").selectAll("circle").data(vals).join("circle")
    .attr("cx", x(c)).attr("cy", d => y(d)).attr("r", 14.5).attr("fill", fill).attr("stroke", stroke).attr("stroke-width", 5);
  dots(o.a, o.cats[0], "#0b0b0b", "#bcc3c2");
  dots(o.b, o.cats[1], o.fill, o.stroke);
  svg.append("path").attr("fill", "none").attr("stroke", "#111").attr("stroke-width", 4).attr("d", `M${o.br[0]},${o.br[3]}V${o.br[2]}H${o.br[1]}V${o.br[3]}`);
  T(o.px, o.py, o.p, { size: PS });
  o.cats.forEach(c => T(x(c) + 26 + o.ldx, o.yr[0] + 40 + o.ldy, c, { rot: -45, a: "end" }));
}
panelF({ max: 10, yr: [3723, 3127], xr: [1376, 1507], box: [1290, 1593], cats: laivCats, a: laivUnstim, b: laivStim, ticks: [0, 2, 4, 6, 8, 10], head: [1290, 1590], hx: 1436, hy: 3106, title: "LAIV",
  fill: "#66e000", stroke: "#52d41a", lineCol: "#555", br: [1350, 1512, 3214, 3239], px: 1423, py: 3201, p: "*P*=0.0156", ldx: 0, ldy: 14 });
panelF({ max: 20, yr: [3718, 3125], xr: [1889, 2023], box: [1802, 2109], cats: mtbCats, a: mtbUnstim, b: mtbStim, ticks: [0, 5, 10, 15, 20], head: [1786, 2113], hx: 1948, hy: 3101, title: "Mtb-lysate",
  fill: "#a01206", stroke: "#fb2a10", lineCol: "#111", br: [1877, 2024, 3196, 3218], px: 1940, py: 3181, p: "*P*=0.0059", ldx: -15, ldy: 16 });
V(1094, 3425, "% Cy3^+HA^+"); V(1161, 3425, "in tonsil γδ T cells");

// ---------- PANEL G ----------
{
  const y = d3.scaleLinear([0, 80], [3716, 3173]);
  const x = d3.scalePoint(gCats, [2852, 3080]);
  const step = x(gCats[1]) - x(gCats[0]);
  const fills = ["#c0c9c6", "#6ef0b8", "#94cbe8"], strokes = ["#4a5155", "#3cc89a", "#0a2f80"], errs = ["#3e4647", "#1c5a4a", "#0a2f80"], dotc = ["#33393a", "#1c7a60", "#0a2f90"];
  const pts = [[gPts1, gJit1], [gPts2, gJit2], [gPts3, gJit3]];
  gCats.forEach((c, i) => {
    svg.append("rect").attr("x", x(c) - 49).attr("width", 98).attr("y", y(gBars[i])).attr("height", y(0) - y(gBars[i])).attr("fill", fills[i]).attr("stroke", strokes[i]).attr("stroke-width", 5);
    L(x(c), y(gErrHi[i]), x(c), y(gErrLo[i]), 5, errs[i]);
    L(x(c) - 27, y(gErrHi[i]), x(c) + 27, y(gErrHi[i]), 4, errs[i]);
    L(x(c) - 27, y(gErrLo[i]), x(c) + 27, y(gErrLo[i]), 4, errs[i]);
    svg.append("g").selectAll("circle").data(pts[i][0]).join("circle")
      .attr("cx", (d, j) => x(c) + pts[i][1][j] * step).attr("cy", d => y(d)).attr("r", 11.5)
      .attr("fill", dotc[i]).attr("stroke", i === 0 ? "#111" : errs[i]).attr("stroke-width", 4);
  });
  svg.append("g").attr("transform", "translate(2781,0)").call(d3.axisLeft(y).tickValues([0, 20, 40, 60, 80]).tickSize(10).tickSizeOuter(0).tickPadding(8))
    .call(a => { a.selectAll("path,line").attr("stroke", "#0b0b0b").attr("stroke-width", 5); a.selectAll("text").attr("font-size", FS); });
  svg.append("g").attr("transform", "translate(0,3716)").call(d3.axisBottom(x).tickSize(9).tickFormat(""))
    .call(a => { a.select(".domain").remove(); a.selectAll("line").attr("stroke", "#0b0b0b").attr("stroke-width", 5); });
  L(2773, 3716, 3153, 3716, 5);
  T(2974, 3057, "Cy3^+HA^+ γδ T cells", { size: 60 });
  V(2648, 3443, "%HA^+ of Cy3^+ γδ T cells");
  svg.append("path").attr("fill", "none").attr("stroke", "#111").attr("stroke-width", 4).attr("d", "M2852,3156V3137H3081V3156");
  svg.append("path").attr("fill", "none").attr("stroke", "#111").attr("stroke-width", 4).attr("d", "M2967,3257V3238H3081V3257");
  T(2968, 3127, "*P*=0.0069", { size: PS }); T(3031, 3220, "*P*=0.0037", { size: PS });
  T(2829, 3757, "Healthy", { rot: -45, a: "end" }); T(2872, 3800, "(Palo Alto, CA)", { rot: -45, a: "end" });
  T(3010, 3761, "UC (ACS)", { rot: -45, a: "end" }); T(3126, 3761, "LTBI (ACS)", { rot: -45, a: "end" });
}
</script>
</body></html>
